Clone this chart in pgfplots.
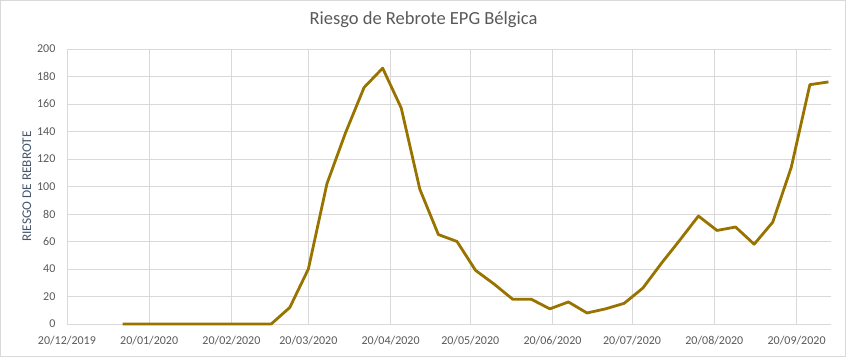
\documentclass[border=0pt]{standalone}
\usepackage{fontspec}
\setmainfont{Carlito}
\usepackage{pgfplots}
\pgfplotsset{compat=1.18}
\definecolor{linegold}{RGB}{153,115,0}
\definecolor{txtgray}{RGB}{89,89,89}
\definecolor{gridgray}{RGB}{217,217,217}
\definecolor{ylabcol}{RGB}{68,84,106}
\begin{document}
\begin{tikzpicture}
\draw[gridgray, line width=0.8pt] (-66.5pt,-32.5pt) rectangle (778.5pt,323.5pt);
\begin{axis}[
  at={(0,0)}, anchor=origin,
  scale only axis, width=764pt, height=275pt,
  xmin=0, xmax=288, ymin=0, ymax=200,
  xtick={0,31,62,91,122,152,183,213,244,275},
  xticklabels={20/12/2019,20/01/2020,20/02/2020,20/03/2020,20/04/2020,20/05/2020,20/06/2020,20/07/2020,20/08/2020,20/09/2020},
  ytick={0,20,...,200},
  /pgf/number format/assume math mode=true,
  tick label style={font=\fontsize{12}{14}\selectfont, text=txtgray},
  grid=major, grid style={draw=gridgray, line width=0.8pt},
  axis line style={draw=none},
  major tick length=0pt,
  xticklabel style={yshift=-9pt},
  yticklabel style={xshift=-8pt},
  ylabel={RIESGO DE REBROTE},
  ylabel style={font=\fontsize{13.3}{15}\selectfont, text=ylabcol, at={(axis description cs:-0.0524,0.5)}, anchor=center},
  title={Riesgo de Rebrote EPG Bélgica},
  title style={font=\fontsize{18.5}{22}\selectfont, text=txtgray, at={(axis description cs:0.4666,1)}, anchor=base, yshift=18pt},
  clip=false,
]
\addplot[linegold, line width=2.8pt, line join=round] coordinates {
(21,0) (28,0) (35,0) (42,0) (49,0) (56,0) (63,0) (70,0) (77,0)
(84,12) (91,40) (98,102) (105,139) (112,172) (119,186) (126,157)
(133,98) (140,65) (147,60) (154,39) (161,29) (168,18) (175,18)
(182,11) (189,16) (196,8) (203,11) (210,15) (217,26) (224,44)
(231,61) (238,78.5) (245,68) (252,70.5) (259,58) (266,74)
(273,114) (280,174) (287,176)
};
\end{axis}
\end{tikzpicture}
\end{document}
